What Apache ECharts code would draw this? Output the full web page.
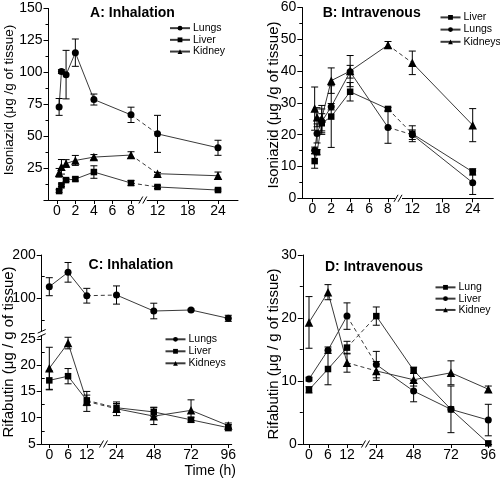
<!DOCTYPE html>
<html><head><meta charset="utf-8">
<script src="https://cdn.jsdelivr.net/npm/echarts@6/dist/echarts.min.js"></script>
<style>html,body{margin:0;padding:0;background:#fff}#c{width:500px;height:479px}</style>
</head><body><div id="c"></div>
<script>
// ---------------- DATA ----------------
const timesAB = [0.25, 0.5, 1, 2, 4, 8, 12, 24];
const timesCD = [0, 6, 12, 24, 48, 72, 96];
const ticksAB = [0, 2, 4, 6, 8, 12, 18, 24];
const ticksCD = [0, 6, 12, 24, 48, 72, 96];

// A: Isoniazid, inhalation
const aLungs = [72.9, 100.6, 98.2, 115.4, 78.7, 66.7, 51.8, 40.9];
const aLungsErr = [6.6, 1.5, 19, 10.7, 4.3, 6, 14.5, 5.9];
const aLiver = [7.0, 11.5, 15.6, 16.4, 21.9, 13.3, 10.2, 7.8];
const aLiverErr = [1, 1, 1, 1.5, 4.9, 2, 1.2, 0.8];
const aKidney = [21.3, 26.0, 28.6, 31.0, 33.6, 35.2, 20.6, 19.0];
const aKidneyErr = [3.4, 5.7, 3, 3.9, 2, 2.6, 1, 2.9];

// B: Isoniazid, intravenous
const bLiver = [11.7, 14.5, 23.6, 25.7, 33.5, 28.1, 20.3, 8.3];
const bLiverErr = [2.25, 0.8, 3, 9.7, 2.9, 0.5, 2.5, 1];
const bLungs = [15.1, 20.4, 24.1, 28.8, 39.8, 22.3, 20.0, 4.9];
const bLungsErr = [1, 3, 4, 1, 2, 5, 1.5, 3.7];
const bKidneys = [28.2, 25.5, 25.2, 37.0, 40.0, 48.2, 42.6, 23.0];
const bKidneysErr = [6.8, 3, 4, 4, 4.9, 1.1, 3.7, 5.2];

// C: Rifabutin, inhalation
const cLungs = [126.8, 160, 106, 107.6, 70.7, 73, 53.8];
const cLungsErr = [20.8, 22.7, 17, 21, 18, 2, 7];
const cLiver = [17.1, 17.9, 13.3, 11.9, 11.1, 9.6, 8.1];
const cLiverErr = [1.8, 1.45, 1, 0.8, 0.9, 0.5, 0.6];
const cKidneys = [19.4, 24.2, 13.1, 11.7, 10.3, 11.4, 8.5];
const cKidneysErr = [4, 1.1, 1.9, 1.3, 1.6, 2, 0.5];

// D: Rifabutin, intravenous
const dLung = [8.6, 11.9, 15.3, 20.3, 11.7, 5.5, 0.1];
const dLungErr = [0.5, 2.5, 1, 1.45, 0.5, 3.7, 0];
const dLiver = [10.3, 14.9, 20.3, 12.6, 8.4, 5.5, 3.8];
const dLiverErr = [0.3, 0.5, 2.1, 2.1, 1.7, 0, 2.5];
const dKidney = [19.3, 24.1, 12.9, 11.6, 10.2, 11.3, 8.7];
const dKidneyErr = [4.1, 1.2, 1.5, 1.5, 1, 1.9, 0.5];

// ---------------- LAYOUT ----------------
const FONT = '"Liberation Sans", Arial, Helvetica, sans-serif';
// broken time axes: each segment [tStart, tEnd, pxStart, pxEnd]
const P = {
  A: {x0: 48.5, x1: 238, y0: 8.5, y1: 200, seg: [[0, 8, 56.8, 131], [12, 24, 157.5, 218]], brk: 143.3},
  B: {x0: 302.3, x1: 493.3, y0: 7.5, y1: 198.3, seg: [[0, 8, 312.3, 388], [12, 24, 412.3, 472.7]], brk: 398.5},
  Cu: {x0: 41.7, x1: 231.7, y0: 255, y1: 330.8},
  C: {x0: 41.7, x1: 231.7, y0: 335.7, y1: 444, seg: [[0, 12, 49.3, 86.8], [24, 96, 116.5, 228.3]], brk: 104},
  D: {x0: 302.8, x1: 491.7, y0: 255, y1: 444, seg: [[0, 12, 309, 347], [24, 96, 376.3, 488.3]], brk: 366}
};
P.Cu.seg = P.C.seg;

function pos(p, t) {
  const s = t <= p.seg[0][1] ? p.seg[0] : p.seg[1];
  return s[2] + (t - s[0]) * (s[3] - s[2]) / (s[1] - s[0]) - p.x0;
}

const grids = [], xAxes = [], yAxes = [], series = [];
function addGrid(p) {
  grids.push({left: p.x0, top: p.y0, width: p.x1 - p.x0, height: p.y1 - p.y0});
  return grids.length - 1;
}
const axisLine = {show: true, onZero: false, lineStyle: {color: '#000', width: 1}};
const lbl = {color: '#000', fontFamily: FONT, fontSize: 14};

function addX(gi, p, ticks, show) {
  const vals = ticks.map(t => pos(p, t));
  xAxes.push({
    type: 'value', gridIndex: gi, min: 0, max: p.x1 - p.x0, show: show,
    axisLine: axisLine, splitLine: {show: false},
    axisTick: {show: true, length: 4, customValues: vals, lineStyle: {color: '#000'}},
    axisLabel: Object.assign({}, lbl, {margin: 4, customValues: vals,
      formatter: v => { const i = vals.findIndex(q => Math.abs(q - v) < 0.01); return i >= 0 ? String(ticks[i]) : ''; }})
  });
  return xAxes.length - 1;
}
function addY(gi, opt) {
  yAxes.push(Object.assign({
    type: 'value', gridIndex: gi, axisLine: axisLine, splitLine: {show: false},
    axisTick: {show: true, length: 5, lineStyle: {color: '#000'}},
    minorTick: {show: true, splitNumber: 2, length: 3, lineStyle: {color: '#000'}},
    axisLabel: Object.assign({}, lbl, {margin: 6})
  }, opt));
  return yAxes.length - 1;
}
function addYCustom(gi, min, max, major, minor, labelFmt) {
  const main = addY(gi, {min: min, max: max, minorTick: {show: false},
    axisTick: {show: true, length: 5, customValues: major, lineStyle: {color: '#000'}},
    axisLabel: Object.assign({}, lbl, {margin: 6, customValues: major})});
  yAxes.push({type: 'value', gridIndex: gi, min: min, max: max,
    axisLine: {show: false}, splitLine: {show: false}, axisLabel: {show: false},
    axisTick: {show: true, length: 3, customValues: minor, lineStyle: {color: '#000'}}});
  return main;
}

const SYM = {circle: ['circle', 7], rect: ['rect', 6.5], tri: ['triangle', 8.5]};
function addSeries(name, xi, yi, p, ts, vals, errs, sym, hasBreak) {
  const leftEnd = p.seg[0][1];
  const data = [];
  let lastLeft = null, firstRight = null;
  ts.forEach((t, i) => {
    if (hasBreak && t > leftEnd && firstRight === null) {
      data.push([(pos(p, ts[i - 1]) + pos(p, t)) / 2, '-']);
      firstRight = [pos(p, t), vals[i]];
    }
    if (t <= leftEnd) lastLeft = [pos(p, t), vals[i]];
    data.push([pos(p, t), vals[i]]);
  });
  const st = SYM[sym];
  series.push({
    name: name, type: 'line', xAxisIndex: xi, yAxisIndex: yi, data: data,
    symbol: st[0], symbolSize: st[1], showSymbol: true, connectNulls: false,
    lineStyle: {color: '#3a3a3a', width: 1}, itemStyle: {color: '#000'},
    z: 4, silent: true, animation: false
  });
  if (hasBreak) {
    series.push({
      name: name + '~', type: 'line', xAxisIndex: xi, yAxisIndex: yi, data: [lastLeft, firstRight],
      symbol: 'none', lineStyle: {color: '#3a3a3a', width: 1, type: [4, 3]}, z: 3, silent: true, animation: false
    });
  }
  series.push({
    type: 'custom', xAxisIndex: xi, yAxisIndex: yi, silent: true, z: 5, animation: false,
    data: ts.map((t, i) => [pos(p, t), vals[i], errs[i]]),
    encode: {x: 0, y: 1},
    renderItem: function (params, api) {
      const x = api.value(0), v = api.value(1), e = api.value(2);
      if (!e) return null;
      const a = api.coord([x, v + e]), b = api.coord([x, v - e]), w = 3.5;
      const s = {stroke: '#000', lineWidth: 1};
      return {type: 'group', children: [
        {type: 'line', shape: {x1: a[0], y1: a[1], x2: b[0], y2: b[1]}, style: s},
        {type: 'line', shape: {x1: a[0] - w, y1: a[1], x2: a[0] + w, y2: a[1]}, style: s},
        {type: 'line', shape: {x1: b[0] - w, y1: b[1], x2: b[0] + w, y2: b[1]}, style: s}
      ]};
    }
  });
}

// Panel A
const gA = addGrid(P.A);
const xA = addX(gA, P.A, ticksAB, true);
const yA = addY(gA, {min: 0, max: 150, interval: 25,
  axisLabel: Object.assign({}, lbl, {margin: 6, formatter: v => v === 0 ? '' : String(v)})});
addSeries('A|Lungs', xA, yA, P.A, timesAB, aLungs, aLungsErr, 'circle', true);
addSeries('A|Liver', xA, yA, P.A, timesAB, aLiver, aLiverErr, 'rect', true);
addSeries('A|Kidney', xA, yA, P.A, timesAB, aKidney, aKidneyErr, 'tri', true);

// Panel B
const gB = addGrid(P.B);
const xB = addX(gB, P.B, ticksAB, true);
const yB = addY(gB, {min: 0, max: 60, interval: 10});
addSeries('B|Liver', xB, yB, P.B, timesAB, bLiver, bLiverErr, 'rect', true);
addSeries('B|Lungs', xB, yB, P.B, timesAB, bLungs, bLungsErr, 'circle', true);
addSeries('B|Kidneys', xB, yB, P.B, timesAB, bKidneys, bKidneysErr, 'tri', true);

// Panel C (broken y axis: two grids)
const gCu = addGrid(P.Cu);
const xCu = addX(gCu, P.Cu, ticksCD, false);
const yCu = addYCustom(gCu, 25, 200, [100, 200], [50, 150]);
const gC = addGrid(P.C);
const xC = addX(gC, P.C, ticksCD, true);
const yC = addYCustom(gC, 5, 25.6, [5, 10, 15, 20, 25], [7.5, 12.5, 17.5, 22.5]);
addSeries('C|Lungs', xCu, yCu, P.Cu, timesCD, cLungs, cLungsErr, 'circle', true);
addSeries('C|Liver', xC, yC, P.C, timesCD, cLiver, cLiverErr, 'rect', true);
addSeries('C|Kidneys', xC, yC, P.C, timesCD, cKidneys, cKidneysErr, 'tri', true);

// Panel D
const gD = addGrid(P.D);
const xD = addX(gD, P.D, ticksCD, true);
const yD = addY(gD, {min: 0, max: 30, interval: 10});
addSeries('D|Lung', xD, yD, P.D, timesCD, dLung, dLungErr, 'rect', true);
addSeries('D|Liver', xD, yD, P.D, timesCD, dLiver, dLiverErr, 'circle', true);
addSeries('D|Kidney', xD, yD, P.D, timesCD, dKidney, dKidneyErr, 'tri', true);

function legend(names, left, top, lh) {
  return {orient: 'vertical', left: left, top: top, padding: 0, itemGap: 0,
    itemWidth: 20, itemHeight: 6, selectedMode: false, data: names,
    formatter: n => n.split('|')[1],
    textStyle: {fontFamily: FONT, fontSize: 10.5, color: '#000', lineHeight: lh, padding: [0, 0, 0, -2]}};
}

// decorations: titles, axis names, break marks
const graphic = [];
function text(str, x, y, size, bold, rot, align) {
  graphic.push({type: 'text', x: x, y: y, rotation: rot || 0, z: 10, silent: true,
    style: {text: str, fontFamily: FONT, fontSize: size, fontWeight: bold ? 'bold' : 'normal',
      fill: '#000', align: align || 'center', verticalAlign: 'middle'}});
}
text('A: Inhalation', 132.5, 13.5, 14, true);
text('B: Intravenous', 371.7, 13.5, 14, true);
text('C: Inhalation', 131, 265, 14, true);
text('D: Intravenous', 374, 267.5, 14, true);
text('Isoniazid (\u03bcg /g of tissue)', 9.5, 100, 13.5, false, Math.PI / 2);
text('Isoniazid (\u03bcg /g of tissue)', 274, 105, 15, false, Math.PI / 2);
text('Rifabutin (\u03bcg / g of tissue)', 8.5, 352, 15, false, Math.PI / 2);
text('Rifabutin (\u03bcg / g of tissue)', 274, 354, 15, false, Math.PI / 2);
text('Time (h)', 236, 471.5, 14, false, 0, 'right');

function xBreak(p) {
  const x = p.brk, y = p.y1;
  graphic.push({type: 'rect', shape: {x: x - 3.5, y: y - 1.5, width: 7, height: 3}, style: {fill: '#fff'}, z: 20, silent: true});
  [-2.5, 1.5].forEach(d => graphic.push({type: 'line', z: 21, silent: true,
    shape: {x1: x + d - 2, y1: y + 3.5, x2: x + d + 2, y2: y - 3.5}, style: {stroke: '#000', lineWidth: 1}}));
}
[P.A, P.B, P.C, P.D].forEach(xBreak);
[[P.Cu.y1 + 0.5], [P.C.y0 - 0.2]].forEach(a => graphic.push({type: 'line', z: 21, silent: true,
  shape: {x1: P.C.x0 - 4, y1: a[0] + 1.8, x2: P.C.x0 + 4, y2: a[0] - 1.8}, style: {stroke: '#000', lineWidth: 1}}));

const chart = echarts.init(document.getElementById('c'), null, {renderer: 'canvas'});
chart.setOption({
  backgroundColor: '#fff', animation: false,
  grid: grids, xAxis: xAxes, yAxis: yAxes, series: series,
  legend: [
    legend(['A|Lungs', 'A|Liver', 'A|Kidney'], 169, 22.3, 11.7),
    legend(['B|Liver', 'B|Lungs', 'B|Kidneys'], 439.5, 11.3, 12.2),
    legend(['C|Lungs', 'C|Liver', 'C|Kidneys'], 164.5, 333.3, 12),
    legend(['D|Lung', 'D|Liver', 'D|Kidney'], 434.5, 281.7, 11.3)
  ],
  graphic: graphic
});
</script></body></html>
